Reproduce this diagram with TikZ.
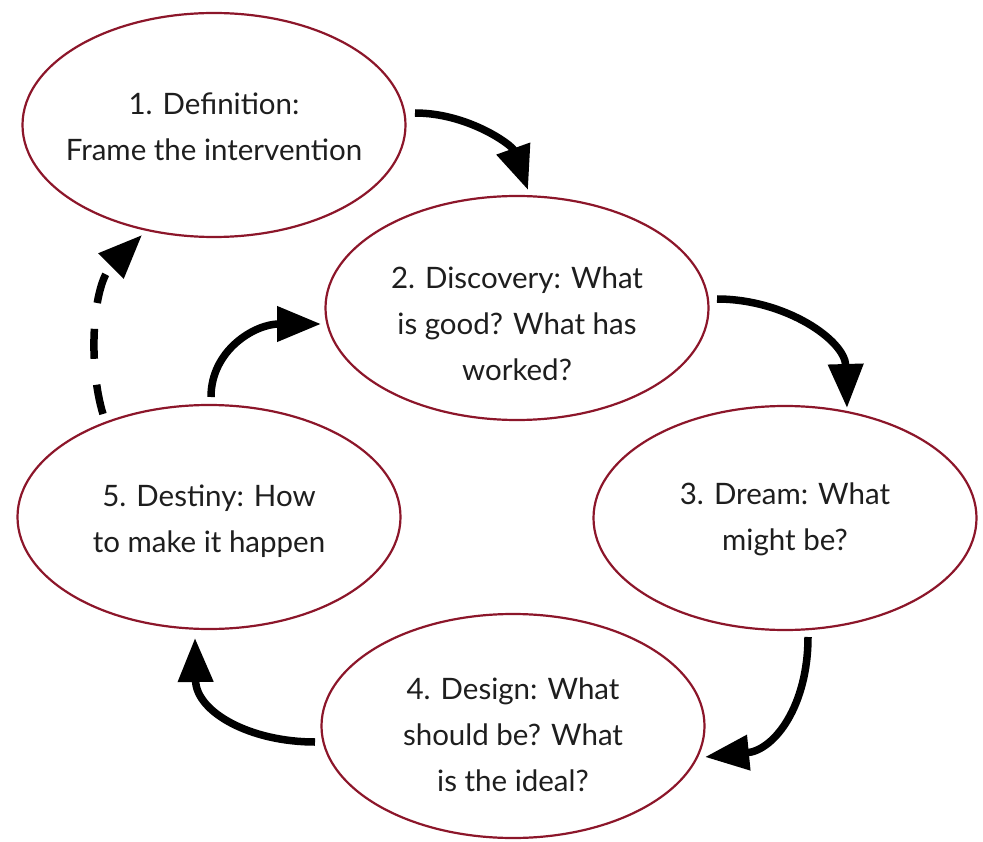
\documentclass[tikz,border=0pt]{standalone}
\usepackage{fontspec}
\setmainfont{Lato}
\usetikzlibrary{arrows.meta,shapes.geometric}
\definecolor{ering}{RGB}{140,22,42}
\definecolor{txt}{RGB}{30,30,30}
\begin{document}
\begin{tikzpicture}[x=1pt,y=-1pt,
  stage/.style={ellipse, draw=ering, line width=2.2pt, minimum width=383pt, minimum height=224pt, inner sep=-40pt, font=\fontsize{29.5}{46}\selectfont, text=txt},
  flow/.style={line width=7.5pt, -{Triangle[length=44pt,width=34pt]}},
  dashflow/.style={flow, dash pattern=on 30pt off 26pt}
]
\useasboundingbox (0,0) rectangle (983,842);
\node[stage] (e1) at (214,125) {\begin{tabular}{@{}c@{}}\rule{0pt}{38pt}1. Definition:\\Frame the intervention\end{tabular}};
\node[stage] (e2) at (517,308) {\begin{tabular}{@{}c@{}}\rule{0pt}{66pt}2. Discovery: What\\is good? What has\\worked?\end{tabular}};
\node[stage] (e3) at (785,518) {\begin{tabular}{@{}c@{}}3. Dream: What\\might be?\end{tabular}};
\node[stage] (e4) at (513,726) {\begin{tabular}{@{}c@{}}\rule{0pt}{52pt}4. Design: What\\should be? What\\is the ideal?\end{tabular}};
\node[stage] (e5) at (209,517) {\begin{tabular}{@{}c@{}}\rule{0pt}{38pt}5. Destiny: How\\to make it happen\end{tabular}};
% connector end points
\coordinate (s12) at (415,113);
\coordinate (t12) at (528,190);
\coordinate (s23) at (717,299);
\coordinate (t23) at (847,408);
\coordinate (s34) at (808,637);
\coordinate (t34) at (705,757);
\coordinate (s45) at (315,742);
\coordinate (t45) at (195,638);
\coordinate (s52) at (211,397);
\coordinate (t52) at (321,324);
\coordinate (s51) at (103,414);
\coordinate (t51) at (142,235);
\draw[flow] (s12) .. controls (468,113) and (512,145) .. (t12);
\draw[flow] (s23) .. controls (785,299) and (845,340) .. (t23);
\draw[flow] (s34) .. controls (808,705) and (775,750) .. (t34);
\draw[flow] (s45) .. controls (250,742) and (196,712) .. (t45);
\draw[flow] (s52) .. controls (211,350) and (255,324) .. (t52);
\draw[dashflow] (s51) .. controls (88,365) and (92,285) .. (t51);
\end{tikzpicture}
\end{document}
